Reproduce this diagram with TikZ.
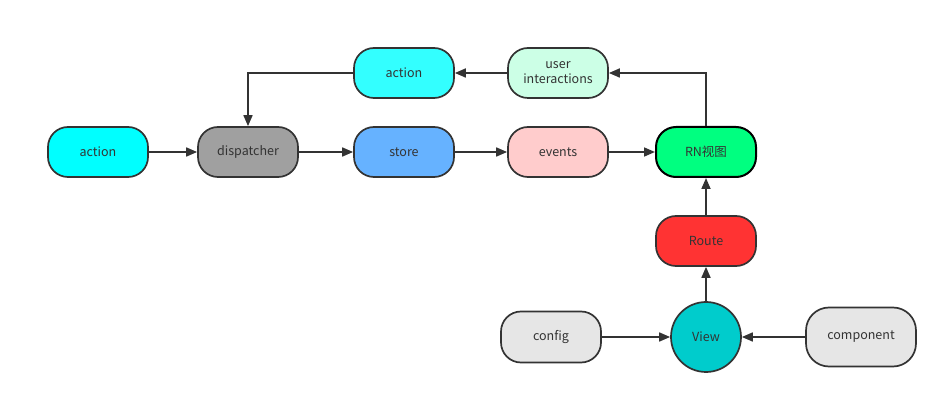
\documentclass[tikz,border=0pt]{standalone}
\usepackage{fontspec}
\setmainfont{Noto Sans CJK SC}
\usetikzlibrary{arrows.meta}
\definecolor{edge}{HTML}{333333}
\definecolor{cAction}{HTML}{00FFFF}
\definecolor{cDisp}{HTML}{A0A0A0}
\definecolor{cStore}{HTML}{66B2FF}
\definecolor{cEvents}{HTML}{FFCCCC}
\definecolor{cRN}{HTML}{00FF80}
\definecolor{cAction2}{HTML}{33FFFF}
\definecolor{cUser}{HTML}{CCFFE6}
\definecolor{cRoute}{HTML}{FF3333}
\definecolor{cView}{HTML}{00CCCC}
\definecolor{cGray}{HTML}{E6E6E6}
\tikzset{
  box/.style={draw=edge, line width=1.7pt, rounded corners=20pt, minimum width=100pt, minimum height=50pt, inner sep=0pt, align=center, text=edge, font=\fontsize{12.5}{15}\selectfont},
  circ/.style={draw=edge, line width=1.7pt, circle, minimum size=70pt, inner sep=0pt, text=edge, font=\fontsize{12.5}{15}\selectfont},
  conn/.style={draw=edge, line width=1.7pt, -{Triangle[length=11pt,width=9pt]}}
}
\begin{document}
\begin{tikzpicture}[x=1pt,y=-1pt]
\useasboundingbox (0,0) rectangle (948,403);
\node[box, fill=cAction] (a1) at (98,152) {action};
\node[box, fill=cDisp] (disp) at (248,152) {dispatcher};
\node[box, fill=cStore] (store) at (404,152) {store};
\node[box, fill=cEvents] (events) at (558,152) {events};
\node[box, fill=cRN, draw=black, line width=2pt] (rn) at (706,152) {RN视图};
\node[box, fill=cAction2] (a2) at (404,73) {action};
\node[box, fill=cUser] (user) at (558,73) {user\\interactions};
\node[box, fill=cRoute] (route) at (706,241) {Route};
\node[circ, fill=cView] (view) at (706,337) {View};
\node[box, fill=cGray, minimum height=51pt] (config) at (551,337) {config};
\node[box, fill=cGray, minimum width=110pt, minimum height=59pt, rounded corners=23pt] (comp) at (861,337) {component};
\draw[conn] (a1) -- (disp);
\draw[conn] (disp) -- (store);
\draw[conn] (store) -- (events);
\draw[conn] (events) -- (rn);
\draw[conn] (rn.north) |- (user.east);
\draw[conn] (user) -- (a2);
\draw[conn] (a2.west) -| (disp.north);
\draw[conn] (route) -- (rn);
\draw[conn] (view) -- (route);
\draw[conn] (config) -- (view);
\draw[conn] (comp) -- (view);
\end{tikzpicture}
\end{document}
